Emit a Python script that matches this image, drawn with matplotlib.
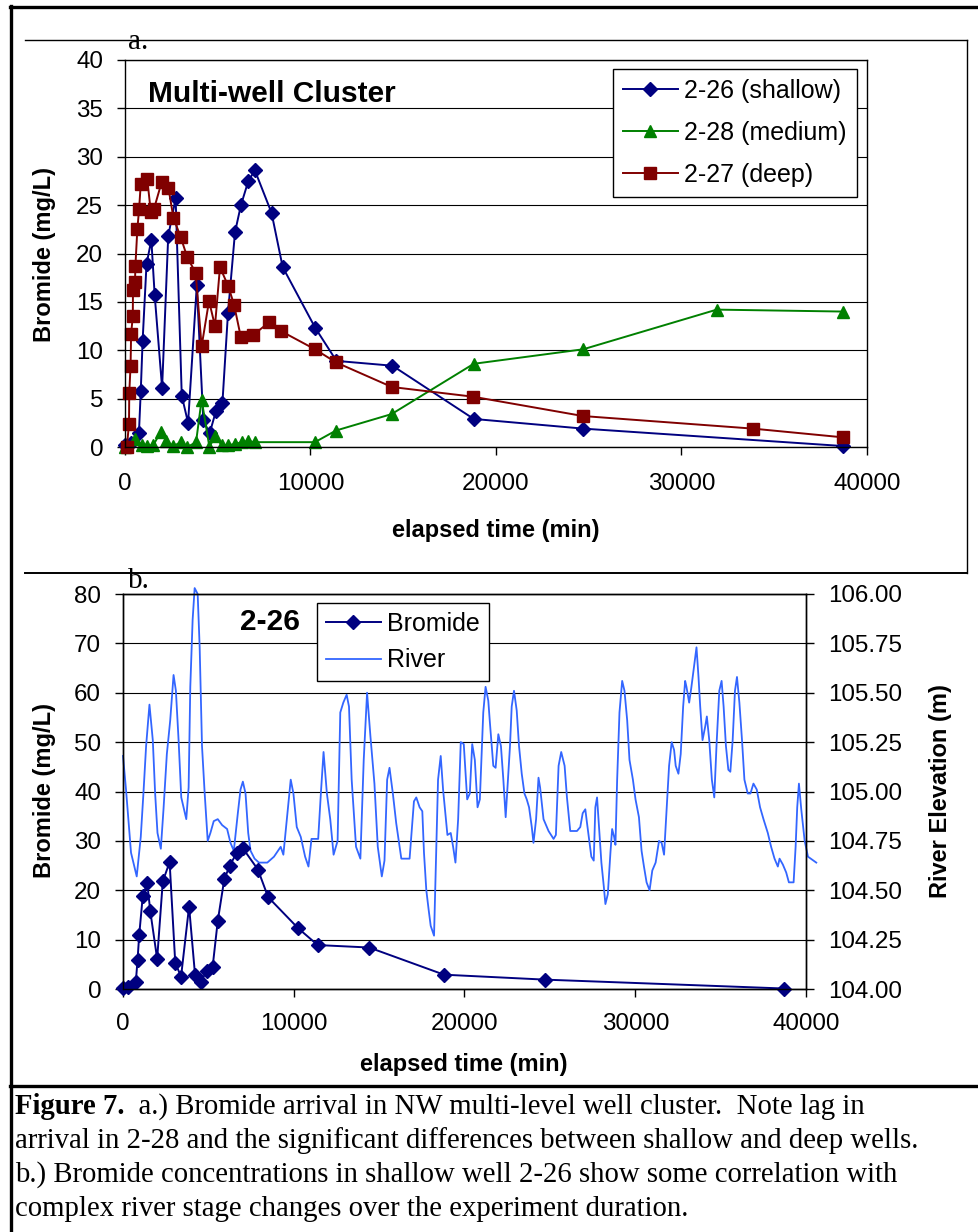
import matplotlib
matplotlib.use('Agg')
import matplotlib.pyplot as plt
from matplotlib.lines import Line2D
from matplotlib.text import Annotation

plt.rcParams['font.family'] = ['Liberation Sans', 'DejaVu Sans']

# ---- panel a: bromide in the multi-level cluster ----
t26 = [0, 300, 750, 850, 950, 1160, 1420, 1600, 2000, 2330, 2730, 3060, 3400, 3870, 4220,
       4560, 4900, 5250, 5550, 5930, 6250, 6650, 7000, 7900, 8500, 10260, 11400, 14420,
       18800, 24700, 38700]
v26 = [0.2, 0.4, 1.4, 5.8, 11.0, 18.9, 21.4, 15.7, 6.1, 21.8, 25.7, 5.3, 2.5, 16.7, 2.8,
       1.4, 3.7, 4.5, 13.8, 22.2, 25.0, 27.5, 28.6, 24.2, 18.6, 12.3, 8.9, 8.4,
       2.9, 1.9, 0.1]

t28 = [0, 540, 900, 1170, 1530, 1940, 2210, 2600, 3020, 3360, 3830, 4130, 4550, 4850,
       5210, 5570, 5930, 6290, 6650, 7010, 10240, 11370, 14370, 18800, 24700, 31900, 38700]
v28 = [0.0, 0.8, 0.2, 0.1, 0.2, 1.6, 0.6, 0.1, 0.5, 0.0, 0.5, 4.9, 0.0, 1.1,
       0.2, 0.2, 0.3, 0.5, 0.6, 0.5, 0.5, 1.7, 3.4, 8.6, 10.1, 14.2, 14.0]

t27 = [100, 215, 230, 300, 330, 420, 430, 540, 560, 665, 760, 850, 1200, 1390, 1560,
       1980, 2340, 2610, 3000, 3360, 3810, 4130, 4530, 4850, 5120, 5570, 5880, 6240,
       6920, 7780, 8390, 10240, 11370, 14390, 18760, 24690, 33850, 38700]
v27 = [0.0, 2.4, 5.6, 8.4, 11.7, 13.5, 16.2, 17.1, 18.7, 22.5, 24.6, 27.2, 27.7, 24.3, 24.6,
       27.4, 26.8, 23.7, 21.7, 19.6, 18.0, 10.4, 15.1, 12.5, 18.6, 16.6, 14.7, 11.4,
       11.6, 12.9, 12.0, 10.1, 8.75, 6.2, 5.2, 3.2, 1.9, 1.0]

# ---- panel b: river stage (m) ----
river_t = [0, 176, 314, 470, 804, 1040, 1196, 1353, 1549, 1745,
           1882, 2020, 2216, 2372, 2568, 2765, 2961, 3098, 3255, 3412,
           3706, 3843, 3941, 4078, 4196, 4373, 4490, 4627, 4784, 4961,
           5118, 5314, 5549, 5804, 6098, 6294, 6490, 6725, 6882, 7020,
           7176, 7333, 7470, 7706, 7961, 8451, 8843, 9235, 9392, 9627,
           9823, 9980, 10176, 10411, 10666, 10862, 11039, 11431, 11588, 11745,
           11941, 12137, 12333, 12568, 12725, 12902, 13098, 13235, 13392, 13647,
           13902, 14098, 14294, 14490, 14725, 14921, 15157, 15314, 15470, 15608,
           15804, 16000, 16300, 16784, 17039, 17176, 17372, 17529, 17627, 17764,
           17902, 18020, 18216, 18352, 18451, 18607, 18745, 18881, 19000, 19193,
           19334, 19470, 19628, 19781, 19957, 20157, 20311, 20452, 20605, 20764,
           20899, 21099, 21234, 21393, 21487, 21687, 21822, 21981, 22134, 22275,
           22411, 22664, 22764, 22899, 23058, 23193, 23352, 23510, 23646, 23781,
           23940, 24040, 24193, 24334, 24428, 24628, 24922, 25216, 25352, 25510,
           25664, 25863, 26000, 26193, 26587, 26781, 26922, 27075, 27175, 27311,
           27428, 27569, 27663, 27763, 27899, 28017, 28157, 28252, 28393, 28546,
           28646, 28764, 28840, 28940, 29076, 29234, 29369, 29528, 29663, 29863,
           30016, 30216, 30369, 30510, 30663, 30840, 30998, 31193, 31393, 31546,
           31687, 31822, 31981, 32134, 32275, 32369, 32528, 32663, 32805, 32922,
           32999, 33157, 33275, 33393, 33510, 33587, 33704, 33804, 33940, 34099,
           34193, 34334, 34487, 34628, 34763, 34922, 35057, 35175, 35311, 35452,
           35569, 35705, 35840, 35958, 36099, 36252, 36393, 36587, 36746, 36922,
           37116, 37310, 37510, 37763, 37957, 38157, 38351, 38451, 38645, 38840,
           38998, 39274, 39392, 39486, 39586, 39722, 39922, 40116, 40602]
river_elev = [105.18, 105.01, 104.86, 104.69, 104.57, 104.77, 104.99, 105.23, 105.44, 105.26,
              104.99, 104.79, 104.71, 104.91, 105.19, 105.36, 105.59, 105.51, 105.26, 104.97,
              104.86, 105.02, 105.53, 105.87, 106.03, 106.00, 105.73, 105.23, 104.99, 104.75,
              104.79, 104.85, 104.86, 104.83, 104.81, 104.74, 104.70, 104.89, 105.01, 105.05,
              104.99, 104.79, 104.70, 104.66, 104.64, 104.64, 104.67, 104.72, 104.68, 104.89,
              105.06, 104.99, 104.82, 104.77, 104.67, 104.62, 104.76, 104.76, 104.99, 105.20,
              104.99, 104.86, 104.68, 104.75, 105.40, 105.45, 105.49, 105.43, 105.06, 104.72,
              104.66, 105.16, 105.50, 105.28, 105.04, 104.72, 104.57, 104.65, 105.06, 105.12,
              104.99, 104.84, 104.66, 104.66, 104.95, 104.97, 104.92, 104.90, 104.69, 104.50,
              104.40, 104.32, 104.27, 104.72, 105.06, 105.18, 105.01, 104.89, 104.78, 104.79,
              104.72, 104.64, 104.86, 105.25, 105.24, 104.96, 104.99, 105.24, 105.16, 104.92,
              104.96, 105.40, 105.53, 105.46, 105.35, 105.13, 105.12, 105.29, 105.23, 105.06,
              104.87, 105.23, 105.43, 105.51, 105.41, 105.23, 105.09, 104.99, 104.96, 104.92,
              104.82, 104.74, 104.86, 105.07, 105.02, 104.86, 104.80, 104.76, 104.78, 105.13,
              105.20, 105.13, 104.97, 104.80, 104.80, 104.82, 104.89, 104.91, 104.84, 104.75,
              104.67, 104.65, 104.92, 104.97, 104.79, 104.64, 104.52, 104.43, 104.48, 104.69,
              104.81, 104.77, 104.73, 105.06, 105.40, 105.56, 105.51, 105.36, 105.16, 105.06,
              104.96, 104.87, 104.70, 104.62, 104.54, 104.50, 104.60, 104.64, 104.75, 104.74,
              104.68, 104.89, 105.13, 105.25, 105.21, 105.13, 105.09, 105.19, 105.43, 105.56,
              105.53, 105.45, 105.52, 105.60, 105.68, 105.73, 105.58, 105.43, 105.26, 105.33,
              105.38, 105.26, 105.06, 104.97, 105.24, 105.51, 105.56, 105.43, 105.23, 105.11,
              105.10, 105.26, 105.51, 105.58, 105.45, 105.26, 105.06, 104.99, 104.99, 105.04,
              105.01, 104.92, 104.86, 104.79, 104.72, 104.66, 104.62, 104.66, 104.63, 104.59,
              104.54, 104.54, 104.72, 104.92, 105.04, 104.91, 104.75, 104.67, 104.64]

caption = ["  a.) Bromide arrival in NW multi-level well cluster.  Note lag in",
           "arrival in 2-28 and the significant differences between shallow and deep wells.",
           "b.) Bromide concentrations in shallow well 2-26 show some correlation with",
           "complex river stage changes over the experiment duration."]

W, H = 979, 1232
def fx(px):
    return px / W
def fy(py):
    return 1 - py / H

fig = plt.figure(figsize=(W / 100, H / 100), dpi=100)
fig.patch.set_facecolor('white')

NAVY = '#000080'
GREEN = '#008000'
MAROON = '#800000'
RIVER = '#3366ff'
TICK = 17.4


def style_axis(ax, xpad, ypad):
    for s in ax.spines.values():
        s.set_color('black')
        s.set_linewidth(1.0)
    ax.tick_params(direction='out', length=5.8, width=1.0, labelsize=TICK, colors='black')
    ax.tick_params(axis='x', pad=xpad)
    ax.tick_params(axis='y', pad=ypad)


# ---------- panel a ----------
ax_a = fig.add_axes([fx(125), fy(447), fx(867) - fx(125), fy(60) - fy(447)])
ax_a.plot(t26, v26, color=NAVY, lw=1.4, marker='D', ms=6.8, label='2-26 (shallow)', clip_on=False)
ax_a.plot(t28, v28, color=GREEN, lw=1.4, marker='^', ms=9.3, label='2-28 (medium)', clip_on=False)
ax_a.plot(t27, v27, color=MAROON, lw=1.4, marker='s', ms=9.3, label='2-27 (deep)', clip_on=False)
ax_a.set_xlim(0, 40000)
ax_a.set_ylim(0, 40)
ax_a.set_xticks([0, 10000, 20000, 30000, 40000])
ax_a.set_yticks(range(0, 41, 5))
ax_a.yaxis.grid(True, color='black', lw=0.8)
ax_a.set_axisbelow(True)
style_axis(ax_a, 13, 10)
ax_a.text(0.031, 0.912, 'Multi-well Cluster', transform=ax_a.transAxes, fontsize=21.5,
          fontweight='bold', va='center', ha='left')
leg_a = ax_a.legend(loc='upper left', bbox_to_anchor=(fx(613), fy(69)), bbox_transform=fig.transFigure,
                    borderaxespad=0, fontsize=18, frameon=True, fancybox=False, framealpha=1,
                    edgecolor='black', handlelength=2.2, handletextpad=0.25, labelspacing=0.72,
                    borderpad=0.4)
leg_a.get_frame().set_linewidth(1.0)

fig.text(fx(45), fy(255), 'Bromide (mg/L)', rotation=90, fontsize=17, fontweight='bold',
         ha='center', va='center')
fig.text(fx(496), fy(530), 'elapsed time (min)', fontsize=17, fontweight='bold',
         ha='center', va='center')
fig.text(fx(128), fy(49), 'a.', family='Liberation Serif', fontsize=21, ha='left', va='baseline')

# ---------- panel b ----------
ax_b = fig.add_axes([fx(123), fy(989), fx(806) - fx(123), fy(594) - fy(989)])
ax_r = ax_b.twinx()
ax_r.set_zorder(ax_b.get_zorder() - 1)
ax_b.patch.set_visible(False)
ax_r.patch.set_facecolor('white')

ax_r.plot(river_t, river_elev, color=RIVER, lw=1.3, clip_on=False)
ax_r.set_ylim(104, 106)
ax_r.set_yticks([104 + 0.25 * i for i in range(9)])
ax_r.set_yticklabels(['%.2f' % (104 + 0.25 * i) for i in range(9)])
ax_r.yaxis.grid(True, color='black', lw=0.8)
ax_r.set_axisbelow(True)

ax_b.plot(t26, v26, color=NAVY, lw=1.4, marker='D', ms=7, clip_on=False)
ax_b.set_xlim(0, 40000)
ax_b.set_ylim(0, 80)
ax_b.set_xticks([0, 10000, 20000, 30000, 40000])
ax_b.set_yticks(range(0, 81, 10))
style_axis(ax_b, 11.5, 10)
style_axis(ax_r, 11.5, 10)

ax_b.text(0.172, 0.93, '2-26', transform=ax_b.transAxes, fontsize=21.5, fontweight='bold',
          va='center', ha='left')
hb = [Line2D([], [], color=NAVY, lw=1.4, marker='D', ms=7),
      Line2D([], [], color=RIVER, lw=1.3)]
leg_b = ax_b.legend(hb, ['Bromide', 'River'], loc='upper left', bbox_to_anchor=(fx(317), fy(603)),
                    bbox_transform=fig.transFigure, borderaxespad=0, fontsize=18, frameon=True,
                    fancybox=False, framealpha=1, edgecolor='black', handlelength=2.2,
                    handletextpad=0.25, labelspacing=0.5, borderpad=0.35)
leg_b.get_frame().set_linewidth(1.0)

fig.text(fx(45), fy(791), 'Bromide (mg/L)', rotation=90, fontsize=17, fontweight='bold',
         ha='center', va='center')
fig.text(fx(940), fy(791), 'River Elevation (m)', rotation=90, fontsize=17, fontweight='bold',
         ha='center', va='center')
fig.text(fx(464), fy(1065), 'elapsed time (min)', fontsize=17, fontweight='bold',
         ha='center', va='center')
fig.text(fx(128), fy(588), 'b.', family='Liberation Serif', fontsize=21, ha='left', va='baseline')

# ---------- frames ----------
def hline(y, x0, x1, lw):
    fig.add_artist(Line2D([fx(x0), fx(x1)], [fy(y), fy(y)], transform=fig.transFigure,
                          color='black', lw=lw))
def vline(x, y0, y1, lw):
    fig.add_artist(Line2D([fx(x), fx(x)], [fy(y0), fy(y1)], transform=fig.transFigure,
                          color='black', lw=lw))

hline(7, 10, 979, 2.4)
vline(11, 6, 1232, 2.4)
hline(40, 25, 967, 1.0)
vline(967, 40, 573, 1.0)
hline(573, 25, 967, 1.4)
hline(1086, 10, 979, 2.4)

# ---------- caption ----------
baselines = [1114, 1148, 1182, 1216]
t_bold = fig.text(fx(15), fy(baselines[0]), 'Figure 7.', family='Liberation Serif',
                  fontweight='bold', fontsize=20.7, ha='left', va='baseline')
fig.add_artist(Annotation(caption[0], xy=(1, 0), xycoords=t_bold, va='bottom', ha='left',
                          family='Liberation Serif', fontsize=20.7))
for line, yb in zip(caption[1:], baselines[1:]):
    fig.text(fx(15), fy(yb), line, family='Liberation Serif', fontsize=20.7,
             ha='left', va='baseline')

fig.savefig('out.png', dpi=100, facecolor='white')
